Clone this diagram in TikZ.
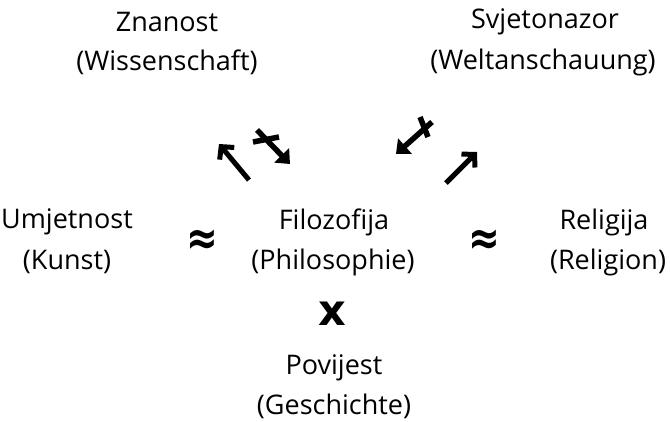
\documentclass[tikz,border=0pt]{standalone}
\usepackage{fontspec}
\setmainfont{Open Sans}
\newfontfamily\symf{DejaVu Sans}
\usetikzlibrary{arrows.meta}
\tikzset{
  lbl/.style={font=\fontsize{27}{40}\selectfont, inner sep=0pt, align=center, anchor=center},
  apx/.style={font=\fontsize{38}{38}\selectfont\symf\bfseries, inner sep=0pt, yscale=1.25},
  sym/.style={font=\fontsize{43}{43}\selectfont\symf\bfseries, inner sep=0pt},
  arr/.style={line width=5pt, -{Straight Barb[length=9pt,width=19pt,line width=5pt]}},
  xarr/.style={line width=5.5pt, -{Triangle[length=12pt,width=20pt]}},
  bar/.style={line width=5.5pt}
}
\begin{document}
\begin{tikzpicture}[x=1pt,y=-1pt]
\useasboundingbox (0,0) rectangle (670,421);
\node[lbl] (zn) at (167,22) {Znanost};
\node[lbl] (zn2) at (167,62) {(Wissenschaft)};
\node[lbl] (sv) at (545,22) {Svjetonazor};
\node[lbl] (sv2) at (543,62) {(Weltanschauung)};
\node[lbl] (um) at (67,222) {Umjetnost};
\node[lbl] (um2) at (67,262) {(Kunst)};
\node[lbl] (fi) at (334,222) {Filozofija};
\node[lbl] (fi2) at (333,262) {(Philosophie)};
\node[lbl] (re) at (604,222) {Religija};
\node[lbl] (re2) at (608,262) {(Religion)};
\node[lbl] (po) at (334,368) {Povijest};
\node[lbl] (po2) at (334,406) {(Geschichte)};
\node[apx] (ap1) at (202,242) {≈};
\node[apx] (ap2) at (484,242) {≈};
\node[sym] (xx) at (332,314) {x};
% arrows
\coordinate (a1t) at (249,180); \coordinate (a1h) at (219,144);
\draw[arr] (a1t) -- (a1h);
\coordinate (a2t) at (257,130); \coordinate (a2h) at (290,164);
\draw[xarr] (a2t) -- (a2h);
\coordinate (b2a) at (253,142); \coordinate (b2b) at (279,137);
\draw[bar] (b2a) -- (b2b);
\coordinate (a3t) at (432,122); \coordinate (a3h) at (396,154);
\draw[xarr] (a3t) -- (a3h);
\coordinate (b3a) at (420,117); \coordinate (b3b) at (428,137);
\draw[bar] (b3a) -- (b3b);
\coordinate (a4t) at (446,183); \coordinate (a4h) at (477,152);
\draw[arr] (a4t) -- (a4h);
\end{tikzpicture}
\end{document}
